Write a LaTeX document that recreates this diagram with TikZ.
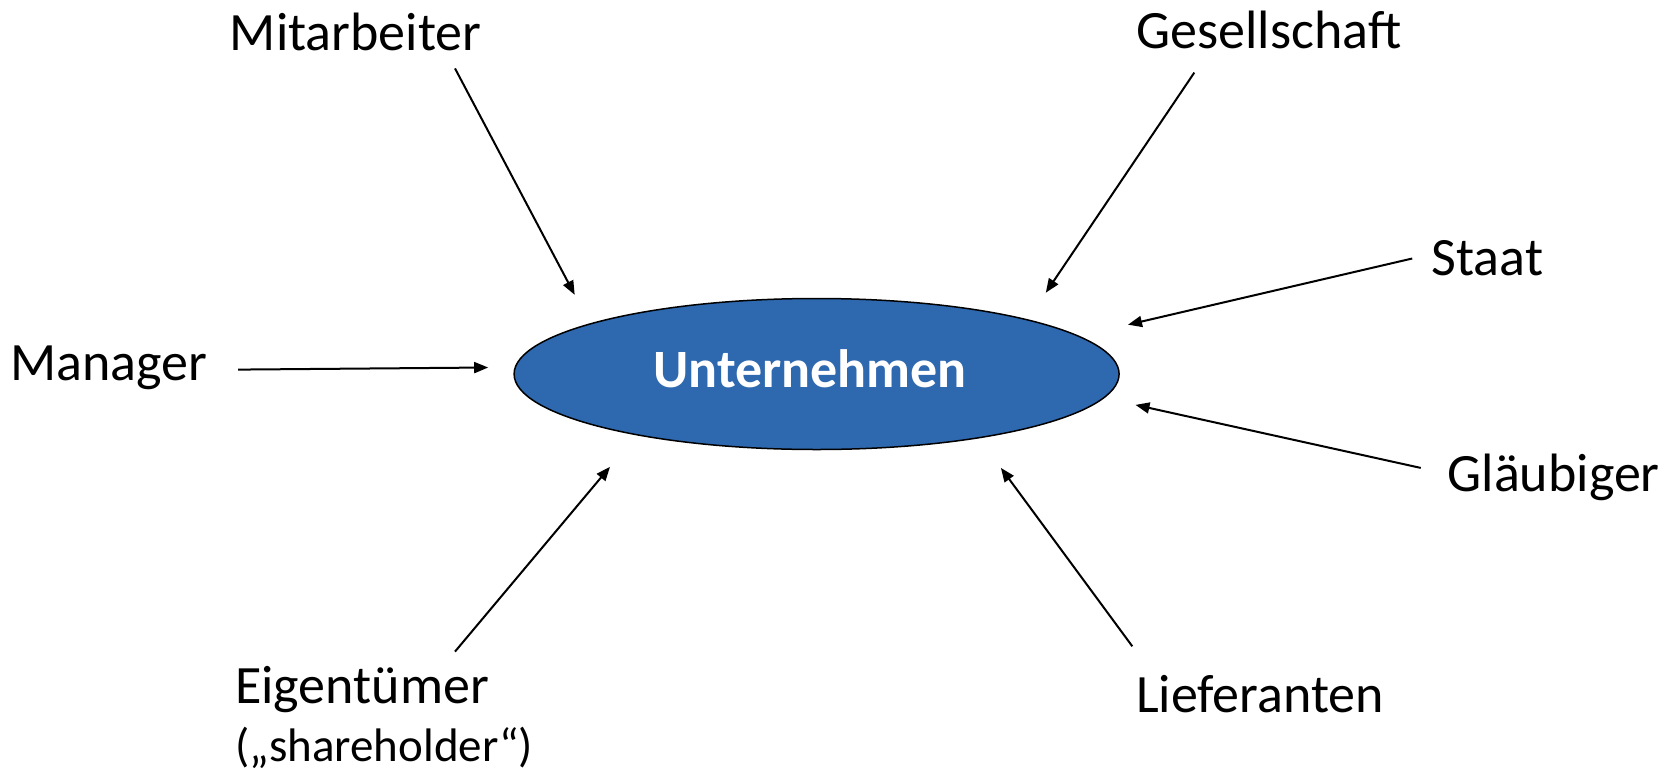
\documentclass[tikz,border=0pt]{standalone}
\usepackage{fontspec}
\setmainfont{Carlito}
\usetikzlibrary{arrows.meta,shapes.geometric}
\definecolor{ublue}{RGB}{46,104,175}
\begin{document}
\begin{tikzpicture}[x=1pt,y=-1pt,
  lbl/.style={font=\fontsize{54}{54}\selectfont, inner sep=0pt, anchor=base},
  conn/.style={line width=2pt, -{Triangle[length=14pt,width=11pt]}}]
\useasboundingbox (0,0) rectangle (1675,771);
\node[draw=black, line width=1.5pt, fill=ublue, ellipse, minimum width=605pt, minimum height=151pt, inner sep=0pt] (u) at (816.6,374) {};
\node[lbl, font=\fontsize{54}{54}\selectfont\bfseries, text=white] (ut) at (810,387) {Unternehmen};
\node[lbl] (mit) at (355.7,50) {Mitarbeiter};
\node[lbl] (ges) at (1269,48) {Gesellschaft};
\node[lbl] (sta) at (1487.5,275.6) {Staat};
\node[lbl] (man) at (109,380) {Manager};
\node[lbl] (gla) at (1553.7,491) {Gläubiger};
\node[lbl, anchor=base west] (eig) at (235,703.5) {Eigentümer};
\node[lbl, anchor=base west, font=\fontsize{47}{47}\selectfont] (sh) at (235,761.5) {(„shareholder“)};
\node[lbl] (lie) at (1260,712.5) {Lieferanten};
\coordinate (mitA) at (455,68.4);     \coordinate (mitB) at (574.7,294.8);
\coordinate (gesA) at (1194.3,72.6);  \coordinate (gesB) at (1045.8,292.7);
\coordinate (staA) at (1412.2,258.5); \coordinate (staB) at (1128,324.7);
\coordinate (manA) at (238.2,369.6);  \coordinate (manB) at (488.2,367.5);
\coordinate (glaA) at (1420.7,467.9); \coordinate (glaB) at (1135.5,404.9);
\coordinate (eigA) at (455,651.6);    \coordinate (eigB) at (610,466.8);
\coordinate (lieA) at (1132.3,646.3); \coordinate (lieB) at (1000.9,467.9);
\draw[conn] (mitA) -- (mitB);
\draw[conn] (gesA) -- (gesB);
\draw[conn] (staA) -- (staB);
\draw[conn] (manA) -- (manB);
\draw[conn] (glaA) -- (glaB);
\draw[conn] (eigA) -- (eigB);
\draw[conn] (lieA) -- (lieB);
\end{tikzpicture}
\end{document}
